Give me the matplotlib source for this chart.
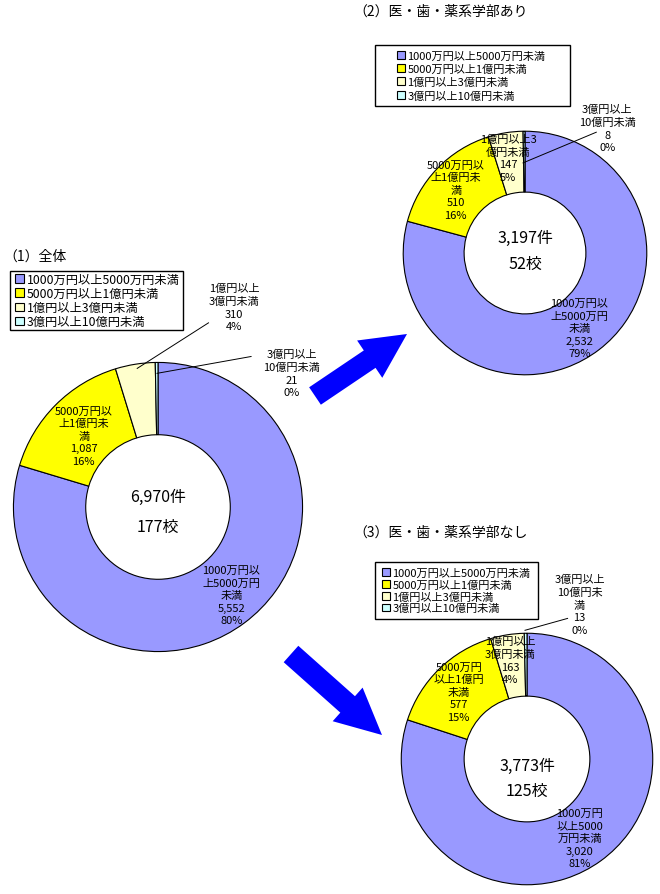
import matplotlib.pyplot as plt
from matplotlib.patches import FancyArrow, Rectangle

plt.rcParams['font.family'] = ['Noto Sans CJK JP', 'DejaVu Sans']

W, H = 660, 895

# --- data ---
categories = ['1000万円以上5000万円未満', '5000万円以上1億円未満',
              '1億円以上3億円未満', '3億円以上10億円未満']
colors = ['#9999FF', '#FFFF00', '#FFFFCC', '#CCFFFF']

titles = ['（1）全体', '（2）医・歯・薬系学部あり', '（3）医・歯・薬系学部なし']

counts_all = [5552, 1087, 310, 21]
counts_med = [2532, 510, 147, 8]
counts_nomed = [3020, 577, 163, 13]

pcts_all = ['80%', '16%', '4%', '0%']
pcts_med = ['79%', '16%', '5%', '0%']
pcts_nomed = ['81%', '15%', '4%', '0%']

names_all = ['1000万円以\n上5000万円\n未満', '5000万円以\n上1億円未\n満',
             '1億円以上\n3億円未満', '3億円以上\n10億円未満']
names_med = ['1000万円以\n上5000万円\n未満', '5000万円以\n上1億円未\n満',
             '1億円以上3\n億円未満', '3億円以上\n10億円未満']
names_nomed = ['1000万円\n以上5000\n万円未満', '5000万円\n以上1億円\n未満',
               '1億円以上\n3億円未満', '3億円以上\n10億円未\n満']

totals = ['6,970件', '3,197件', '3,773件']
schools = ['177校', '52校', '125校']

# --- layout (pixels) ---
layouts = [
    dict(c=(158, 508), r=146,
         labels=[(232, 597), (83, 436), (235, 306), (293, 373)],
         leaders=[((137, 368), (209, 322)), ((157, 373), (252, 356))],
         center_y=(497, 528), title=(3, 257),
         box=(10, 272, 183, 331), mark_x=15, leg_fs=8.8, leg_sp=0.1),
    dict(c=(525, 254), r=123,
         labels=[(580, 330), (455, 190), (508, 158), (608, 128)],
         leaders=[((523, 163), (597, 132))],
         center_y=(238, 265), title=(353, 12),
         box=(375, 46, 570, 107), mark_x=397, leg_fs=8.0, leg_sp=0.28),
    dict(c=(527, 760), r=127,
         labels=[(580, 840), (458, 692), (510, 660), (580, 604)],
         leaders=[((525, 630), (568, 618))],
         center_y=(767, 792), title=(353, 533),
         box=(375, 563, 538, 620), mark_x=382, leg_fs=8.0, leg_sp=0.15),
]

fig = plt.figure(figsize=(W / 100, H / 100), dpi=100)

# overlay in pixel coordinates for titles, boxes and arrows
ov = fig.add_axes([0, 0, 1, 1])
ov.set_xlim(0, W)
ov.set_ylim(H, 0)
ov.axis('off')

# big blue arrows
ov.add_patch(FancyArrow(315, 397, 92, -62, width=21, head_width=45,
                        head_length=45, length_includes_head=True,
                        color='#0000FF', lw=0))
ov.add_patch(FancyArrow(291, 655, 91, 81, width=22, head_width=45,
                        head_length=46, length_includes_head=True,
                        color='#0000FF', lw=0))

series = [(counts_all, pcts_all, names_all),
          (counts_med, pcts_med, names_med),
          (counts_nomed, pcts_nomed, names_nomed)]

for (counts, pcts, names), lay, title, total, school in zip(series, layouts, titles,
                                                           totals, schools):
    cx, cy = lay['c']
    r = lay['r']
    ax = fig.add_axes([(cx - r) / W, 1 - (cy + r) / H, 2 * r / W, 2 * r / H])
    wedges, _ = ax.pie(counts, colors=colors, startangle=90, counterclock=False,
                       radius=1, wedgeprops=dict(width=0.5, edgecolor='black',
                                                 linewidth=0.8))
    ax.set_xlim(-1.01, 1.01)
    ax.set_ylim(-1.01, 1.01)
    ax.axis('off')

    def to_ax(p):
        return ((p[0] - cx) / r, (cy - p[1]) / r)

    for name, n, pct, pos in zip(names, counts, pcts, lay['labels']):
        x, y = to_ax(pos)
        ax.text(x, y, f'{name}\n{n:,}\n{pct}', ha='center', va='center',
                fontsize=8, linespacing=1.32, clip_on=False)

    for p0, p1 in lay['leaders']:
        (x0, y0), (x1, y1) = to_ax(p0), to_ax(p1)
        ax.plot([x0, x1], [y0, y1], color='black', lw=0.7, clip_on=False)

    ax.text(0, to_ax((0, lay['center_y'][0]))[1], total, ha='center',
            va='center', fontsize=11.5)
    ax.text(0, to_ax((0, lay['center_y'][1]))[1], school, ha='center',
            va='center', fontsize=11.5)

    ov.text(lay['title'][0], lay['title'][1], title, ha='left', va='center',
            fontsize=10)

    x0, y0, x1, y1 = lay['box']
    ov.add_patch(Rectangle((x0, y0), x1 - x0, y1 - y0, fill=False,
                           edgecolor='black', lw=1.0))
    fig.legend(wedges, categories, loc='center left',
               bbox_to_anchor=(lay['mark_x'] / W, 1 - (y0 + y1) / 2 / H),
               frameon=False, fontsize=lay['leg_fs'], handlelength=0.7,
               handleheight=0.7, handletextpad=0.25, borderpad=0,
               borderaxespad=0, labelspacing=lay['leg_sp'])

fig.savefig('out.png', dpi=100)
